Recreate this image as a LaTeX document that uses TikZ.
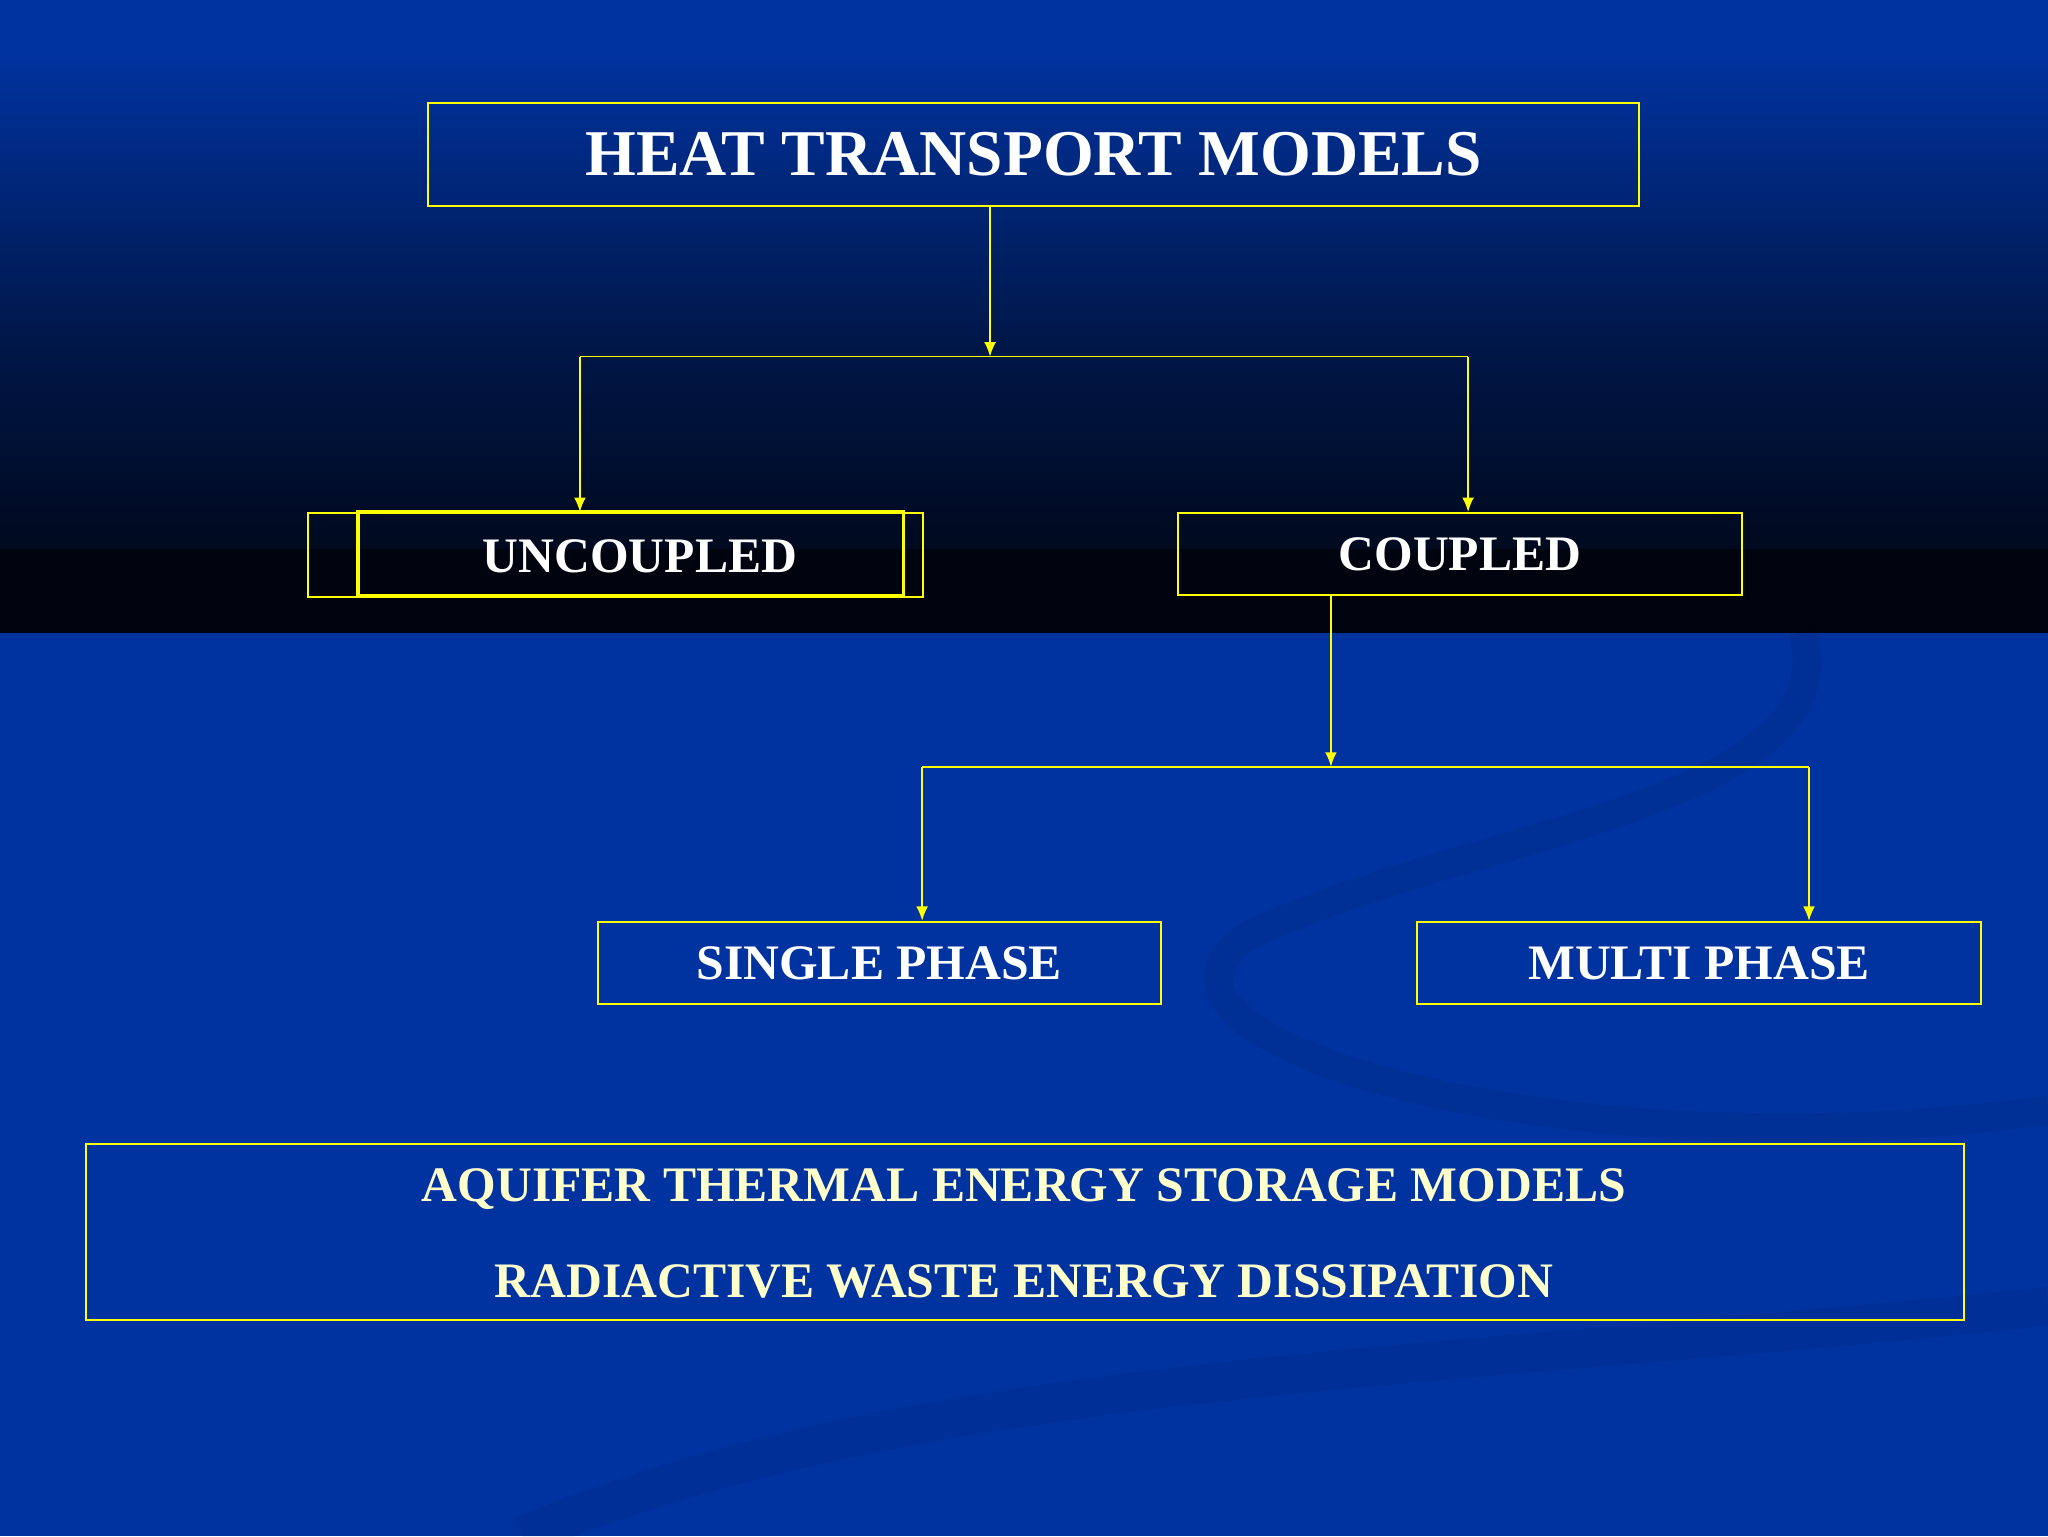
\documentclass[tikz,border=0pt]{standalone}
\usepackage{fontspec}
\setmainfont{Liberation Serif}
\usetikzlibrary{arrows.meta}
\definecolor{bgblue}{HTML}{0033A0}
\definecolor{dark}{HTML}{00040E}
\definecolor{ylw}{HTML}{FFFF00}
\definecolor{cream}{HTML}{FFFFCC}
\tikzset{
  box/.style={draw=ylw,line width=1.5pt,inner sep=0pt,anchor=north west},
  lnk/.style={draw=ylw,line width=1.3pt},
  arr/.style={lnk,-{Latex[length=11pt,width=9pt]}},
  lbl/.style={text=white,font=\bfseries\fontsize{38}{44}\selectfont}
}
\begin{document}
\begin{tikzpicture}[x=1pt,y=-1pt]
\useasboundingbox (0,0) rectangle (1568,1176);
\fill[bgblue] (0,0) rectangle (1568,1176);
\shade[top color=bgblue,bottom color=dark,middle color=dark!60!bgblue] (0,40) rectangle (1568,484);
\fill[bgblue] (0,0) rectangle (1568,40);
\fill[dark] (0,420) rectangle (1568,484);
% faint swirls
\draw[line width=22pt,color=black,opacity=0.06] (1380,484) .. controls (1420,620) and (1100,640) .. (950,720) .. controls (850,800) and (1200,900) .. (1568,850);
\draw[line width=30pt,color=black,opacity=0.05] (400,1176) .. controls (700,1050) and (1100,1050) .. (1568,1000);
% boxes
\node[box,minimum width=927pt,minimum height=79pt] (top) at (327,78) {};
\node[lbl,font=\bfseries\fontsize{50}{56}\selectfont] at (top.center) {HEAT TRANSPORT MODELS};
\node[box,minimum width=471pt,minimum height=64pt] (unc) at (235,392) {};
\draw[draw=ylw,line width=2.5pt] (274,392) rectangle (692,456);
\node[lbl] at (490,426) {UNCOUPLED};
\node[box,minimum width=432pt,minimum height=63pt] (cou) at (901,392) {};
\node[lbl] at (cou.center) {COUPLED};
\node[box,minimum width=431pt,minimum height=63pt] (sgl) at (457,705) {};
\node[lbl] at (sgl.center) {SINGLE PHASE};
\node[box,minimum width=432pt,minimum height=63pt] (mul) at (1084,705) {};
\node[lbl] at (mul.center) {MULTI PHASE};
\node[box,minimum width=1438pt,minimum height=135pt] (bot) at (65,875) {};
\node[lbl,text=cream] at (784,910) {AQUIFER THERMAL ENERGY STORAGE MODELS};
\node[lbl,text=cream] at (784,981) {RADIACTIVE WASTE ENERGY DISSIPATION};
% connectors
\coordinate (j1) at (758,273);
\coordinate (j1l) at (444,273);
\coordinate (j1r) at (1124,273);
\draw[arr] (top.south -| j1) -- (j1);
\draw[lnk] (j1l) -- (j1r);
\draw[arr] (j1l) -- (j1l |- unc.north);
\draw[arr] (j1r) -- (j1r |- cou.north);
\coordinate (j2) at (1019,587);
\coordinate (j2l) at (706,587);
\coordinate (j2r) at (1385,587);
\draw[arr] (cou.south -| j2) -- (j2);
\draw[lnk] (j2l) -- (j2r);
\draw[arr] (j2l) -- (j2l |- sgl.north);
\draw[arr] (j2r) -- (j2r |- mul.north);
\end{tikzpicture}
\end{document}
